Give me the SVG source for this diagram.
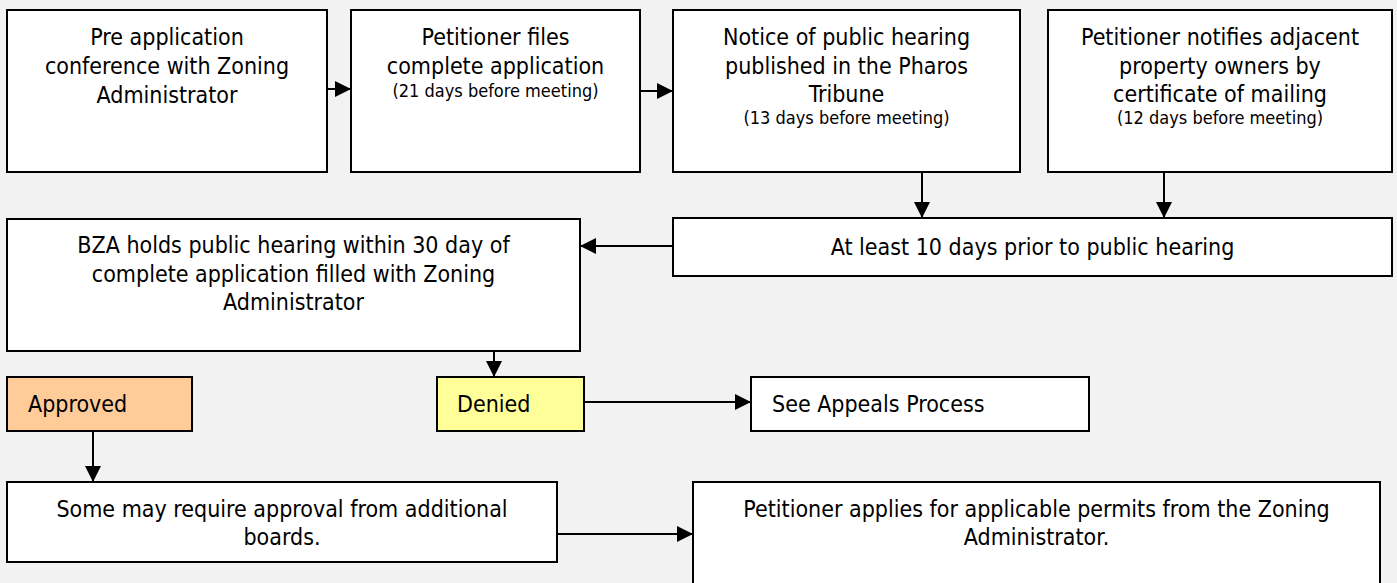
<svg xmlns="http://www.w3.org/2000/svg" width="1397" height="583" viewBox="0 0 1397 583">
<style>
.box{fill:#FFFFFF;stroke:#000;stroke-width:2}
.t{font-family:"DejaVu Sans Condensed","DejaVu Sans",sans-serif;font-size:23px;fill:#000;text-anchor:middle}
.s{font-family:"DejaVu Sans Condensed","DejaVu Sans",sans-serif;font-size:18px;fill:#000;text-anchor:middle}
.l{text-anchor:start}
.c{fill:none;stroke:#000;stroke-width:2}
</style>
<defs>
<marker id="ah" markerUnits="userSpaceOnUse" markerWidth="16" markerHeight="16" viewBox="0 0 14 14" refX="14" refY="7" orient="auto">
<path d="M0,0 L14,7 L0,14 Z" fill="#000"/>
</marker>
</defs>
<rect x="0" y="0" width="1397" height="583" fill="#F2F2F2"/>
<g id="n1">
<rect class="box" x="7" y="10" width="320" height="162"/>
<text class="t" x="167" y="45">Pre application</text>
<text class="t" x="167" y="74">conference with Zoning</text>
<text class="t" x="167" y="103">Administrator</text>
</g>
<g id="n2">
<rect class="box" x="351" y="10" width="289" height="162"/>
<text class="t" x="495.5" y="45">Petitioner files</text>
<text class="t" x="495.5" y="74">complete application</text>
<text class="s" x="495.5" y="97">(21 days before meeting)</text>
</g>
<g id="n3">
<rect class="box" x="673" y="10" width="347" height="162"/>
<text class="t" x="846.5" y="45">Notice of public hearing</text>
<text class="t" x="846.5" y="74">published in the Pharos</text>
<text class="t" x="846.5" y="102">Tribune</text>
<text class="s" x="846.5" y="124">(13 days before meeting)</text>
</g>
<g id="n4">
<rect class="box" x="1048" y="10" width="344" height="162"/>
<text class="t" x="1220" y="45">Petitioner notifies adjacent</text>
<text class="t" x="1220" y="74">property owners by</text>
<text class="t" x="1220" y="102">certificate of mailing</text>
<text class="s" x="1220" y="124">(12 days before meeting)</text>
</g>
<g id="n5">
<rect class="box" x="673" y="218" width="719" height="58"/>
<text class="t" x="1032.5" y="255">At least 10 days prior to public hearing</text>
</g>
<g id="n6">
<rect class="box" x="7" y="219" width="573" height="132"/>
<text class="t" x="293.5" y="253">BZA holds public hearing within 30 day of</text>
<text class="t" x="293.5" y="282">complete application filled with Zoning</text>
<text class="t" x="293.5" y="310">Administrator</text>
</g>
<g id="n7">
<rect class="box" x="7" y="377" width="185" height="54" fill="#FFCC99" style="fill:#FFCC99"/>
<text class="t l" x="28" y="412">Approved</text>
</g>
<g id="n8">
<rect class="box" x="437" y="377" width="147" height="54" style="fill:#FFFF99"/>
<text class="t l" x="457" y="412">Denied</text>
</g>
<g id="n9">
<rect class="box" x="751" y="377" width="338" height="54"/>
<text class="t l" x="772" y="412">See Appeals Process</text>
</g>
<g id="n10">
<rect class="box" x="7" y="482" width="550" height="80"/>
<text class="t" x="282" y="517">Some may require approval from additional</text>
<text class="t" x="282" y="545">boards.</text>
</g>
<g id="n11">
<rect class="box" x="693" y="482" width="687" height="110"/>
<text class="t" x="1036.5" y="517">Petitioner applies for applicable permits from the Zoning</text>
<text class="t" x="1036.5" y="545">Administrator.</text>
</g>
<g id="connectors">
<line class="c" x1="327" y1="89" x2="351" y2="89" marker-end="url(#ah)"/>
<line class="c" x1="640" y1="91" x2="673" y2="91" marker-end="url(#ah)"/>
<line class="c" x1="922" y1="172" x2="922" y2="218" marker-end="url(#ah)"/>
<line class="c" x1="1164" y1="172" x2="1164" y2="218" marker-end="url(#ah)"/>
<line class="c" x1="673" y1="246" x2="580" y2="246" marker-end="url(#ah)"/>
<line class="c" x1="494" y1="351" x2="494" y2="377" marker-end="url(#ah)"/>
<line class="c" x1="584" y1="402" x2="751" y2="402" marker-end="url(#ah)"/>
<line class="c" x1="93" y1="431" x2="93" y2="482" marker-end="url(#ah)"/>
<line class="c" x1="557" y1="534" x2="693" y2="534" marker-end="url(#ah)"/>
</g>
</svg>
